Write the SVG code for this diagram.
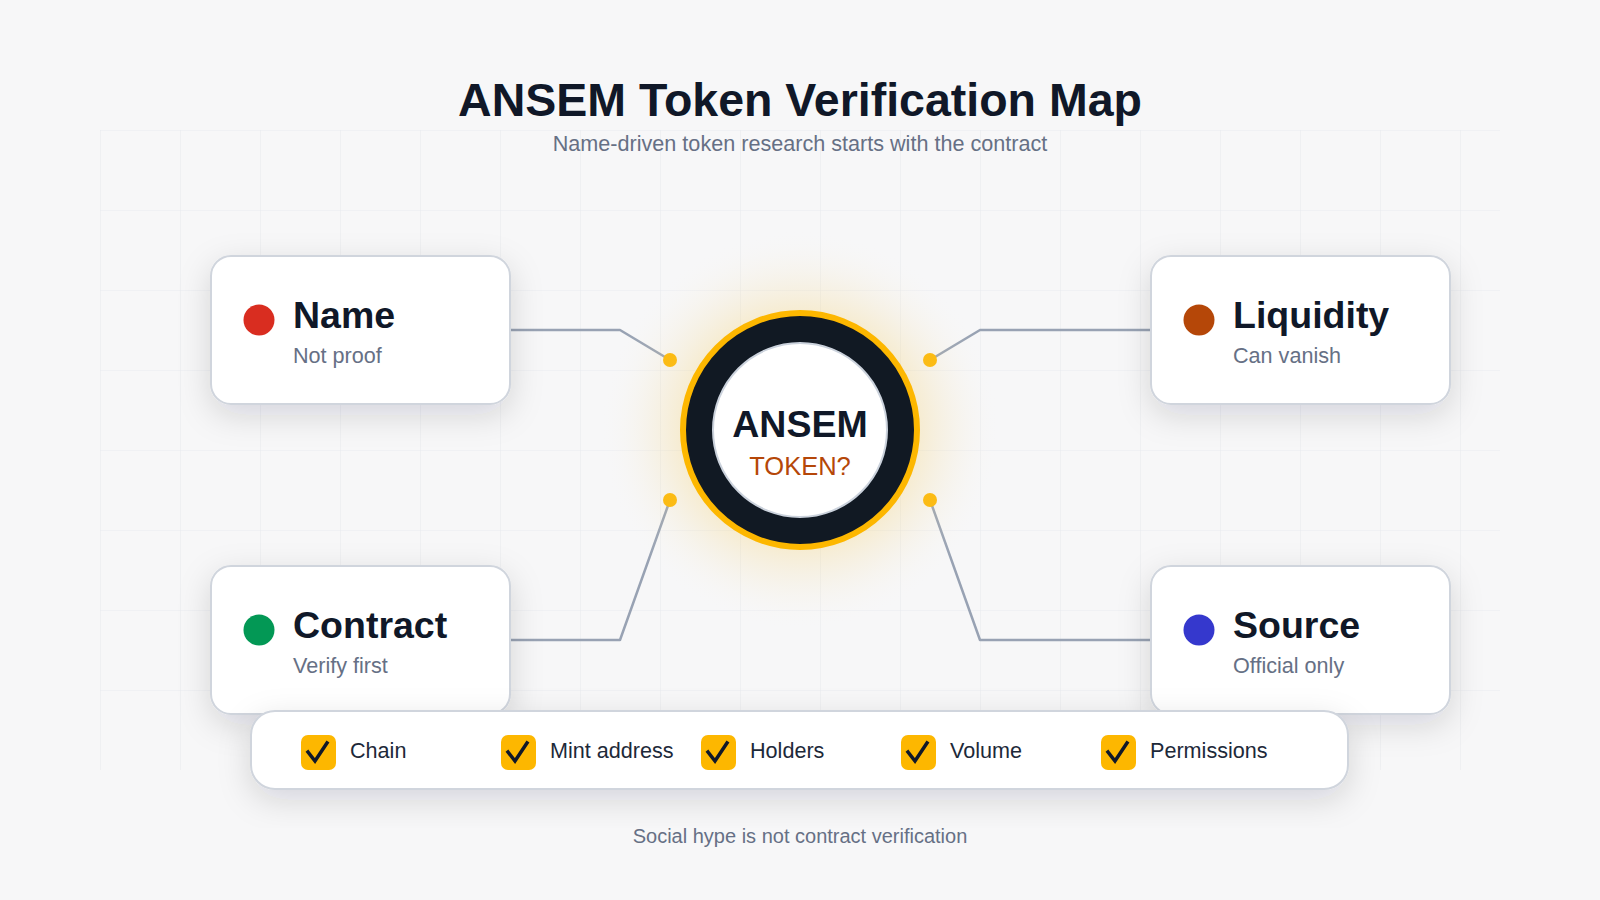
<svg xmlns="http://www.w3.org/2000/svg" width="1600" height="900" viewBox="0 0 1600 900">
  <defs>
    <pattern id="grid" x="100" y="130" width="80" height="80" patternUnits="userSpaceOnUse">
      <path d="M80 0 L0 0 L0 80" fill="none" stroke="#e9ebef" stroke-width="1.2"/>
    </pattern>
    <filter id="shadow" x="-30%" y="-40%" width="160%" height="190%">
      <feDropShadow dx="0" dy="10" stdDeviation="16" flood-color="#101828" flood-opacity="0.14"/>
    </filter>
    <radialGradient id="glow" cx="0.5" cy="0.5" r="0.5">
      <stop offset="0.5" stop-color="#f5c542" stop-opacity="0.32"/>
      <stop offset="0.75" stop-color="#f2d58a" stop-opacity="0.14"/>
      <stop offset="1" stop-color="#f7f7f8" stop-opacity="0"/>
    </radialGradient>
    <style>
      .card { fill: #ffffff; stroke: #d0d5dd; stroke-width: 2; }
      .title { font-family: "Liberation Sans", Arial, sans-serif; font-weight: 700; fill: #101828; }
      .sub { font-family: "Liberation Sans", Arial, sans-serif; fill: #667085; }
      .ctitle { font-family: "Liberation Sans", Arial, sans-serif; font-weight: 700; font-size: 37.5px; fill: #101828; }
      .csub { font-family: "Liberation Sans", Arial, sans-serif; font-size: 21.6px; fill: #667085; }
      .conn { fill: none; stroke: #98a2b3; stroke-width: 2.5; stroke-linejoin: round; }
      .pin { fill: #fdb700; }
      .box { fill: #fdb700; }
      .tick { fill: none; stroke: #101828; stroke-width: 3.5; stroke-linecap: square; }
      .ctext { font-family: "Liberation Sans", Arial, sans-serif; font-size: 21.6px; fill: #1d2939; }
    </style>
  </defs>

  <rect width="1600" height="900" fill="#f7f7f8"/>
  <rect x="100" y="130" width="1400" height="640" fill="url(#grid)"/>

  <text class="title" x="800" y="116" font-size="46.5" text-anchor="middle">ANSEM Token Verification Map</text>
  <text class="sub" x="800" y="151" font-size="21.6" text-anchor="middle">Name-driven token research starts with the contract</text>

  <g id="connectors">
    <polyline class="conn" points="510,330 620,330 670,360"/>
    <polyline class="conn" points="510,640 620,640 670,500"/>
    <polyline class="conn" points="1150,330 980,330 930,360"/>
    <polyline class="conn" points="1150,640 980,640 930,500"/>
    <circle class="pin" cx="670" cy="360" r="7"/>
    <circle class="pin" cx="670" cy="500" r="7"/>
    <circle class="pin" cx="930" cy="360" r="7"/>
    <circle class="pin" cx="930" cy="500" r="7"/>
  </g>

  <g id="center">
    <circle cx="800" cy="430" r="200" fill="url(#glow)"/>
    <circle cx="800" cy="430" r="117" fill="#111923" stroke="#fdb700" stroke-width="6"/>
    <circle cx="800" cy="430" r="87" fill="#ffffff" stroke="#cbd2dc" stroke-width="2"/>
    <text class="title" x="800" y="437" font-size="37.5" text-anchor="middle">ANSEM</text>
    <text x="800" y="475" font-family="Liberation Sans, Arial, sans-serif" font-size="25.5" fill="#b54708" text-anchor="middle">TOKEN?</text>
  </g>

  <g id="node-name">
    <rect class="card" x="211" y="256" width="299" height="148" rx="20" filter="url(#shadow)"/>
    <circle cx="259" cy="320" r="15.5" fill="#d92d20"/>
    <text class="ctitle" x="293" y="328">Name</text>
    <text class="csub" x="293" y="363">Not proof</text>
  </g>

  <g id="node-liquidity">
    <rect class="card" x="1151" y="256" width="299" height="148" rx="20" filter="url(#shadow)"/>
    <circle cx="1199" cy="320" r="15.5" fill="#b54708"/>
    <text class="ctitle" x="1233" y="328">Liquidity</text>
    <text class="csub" x="1233" y="363">Can vanish</text>
  </g>

  <g id="node-contract">
    <rect class="card" x="211" y="566" width="299" height="148" rx="20" filter="url(#shadow)"/>
    <circle cx="259" cy="630" r="15.5" fill="#039855"/>
    <text class="ctitle" x="293" y="638">Contract</text>
    <text class="csub" x="293" y="673">Verify first</text>
  </g>

  <g id="node-source">
    <rect class="card" x="1151" y="566" width="299" height="148" rx="20" filter="url(#shadow)"/>
    <circle cx="1199" cy="630" r="15.5" fill="#3538cd"/>
    <text class="ctitle" x="1233" y="638">Source</text>
    <text class="csub" x="1233" y="673">Official only</text>
  </g>

  <g id="checklist">
    <rect class="card" x="251" y="711" width="1097" height="78" rx="24" filter="url(#shadow)"/>
    <g>
      <rect class="box" x="301" y="735" width="35" height="35" rx="7"/>
      <path class="tick" d="M308 752 L315 761 L327 743"/>
      <text class="ctext" x="350" y="758">Chain</text>
    </g>
    <g>
      <rect class="box" x="501" y="735" width="35" height="35" rx="7"/>
      <path class="tick" d="M508 752 L515 761 L527 743"/>
      <text class="ctext" x="550" y="758">Mint address</text>
    </g>
    <g>
      <rect class="box" x="701" y="735" width="35" height="35" rx="7"/>
      <path class="tick" d="M708 752 L715 761 L727 743"/>
      <text class="ctext" x="750" y="758">Holders</text>
    </g>
    <g>
      <rect class="box" x="901" y="735" width="35" height="35" rx="7"/>
      <path class="tick" d="M908 752 L915 761 L927 743"/>
      <text class="ctext" x="950" y="758">Volume</text>
    </g>
    <g>
      <rect class="box" x="1101" y="735" width="35" height="35" rx="7"/>
      <path class="tick" d="M1108 752 L1115 761 L1127 743"/>
      <text class="ctext" x="1150" y="758">Permissions</text>
    </g>
  </g>

  <text class="sub" x="800" y="843" font-size="20" text-anchor="middle">Social hype is not contract verification</text>
</svg>
